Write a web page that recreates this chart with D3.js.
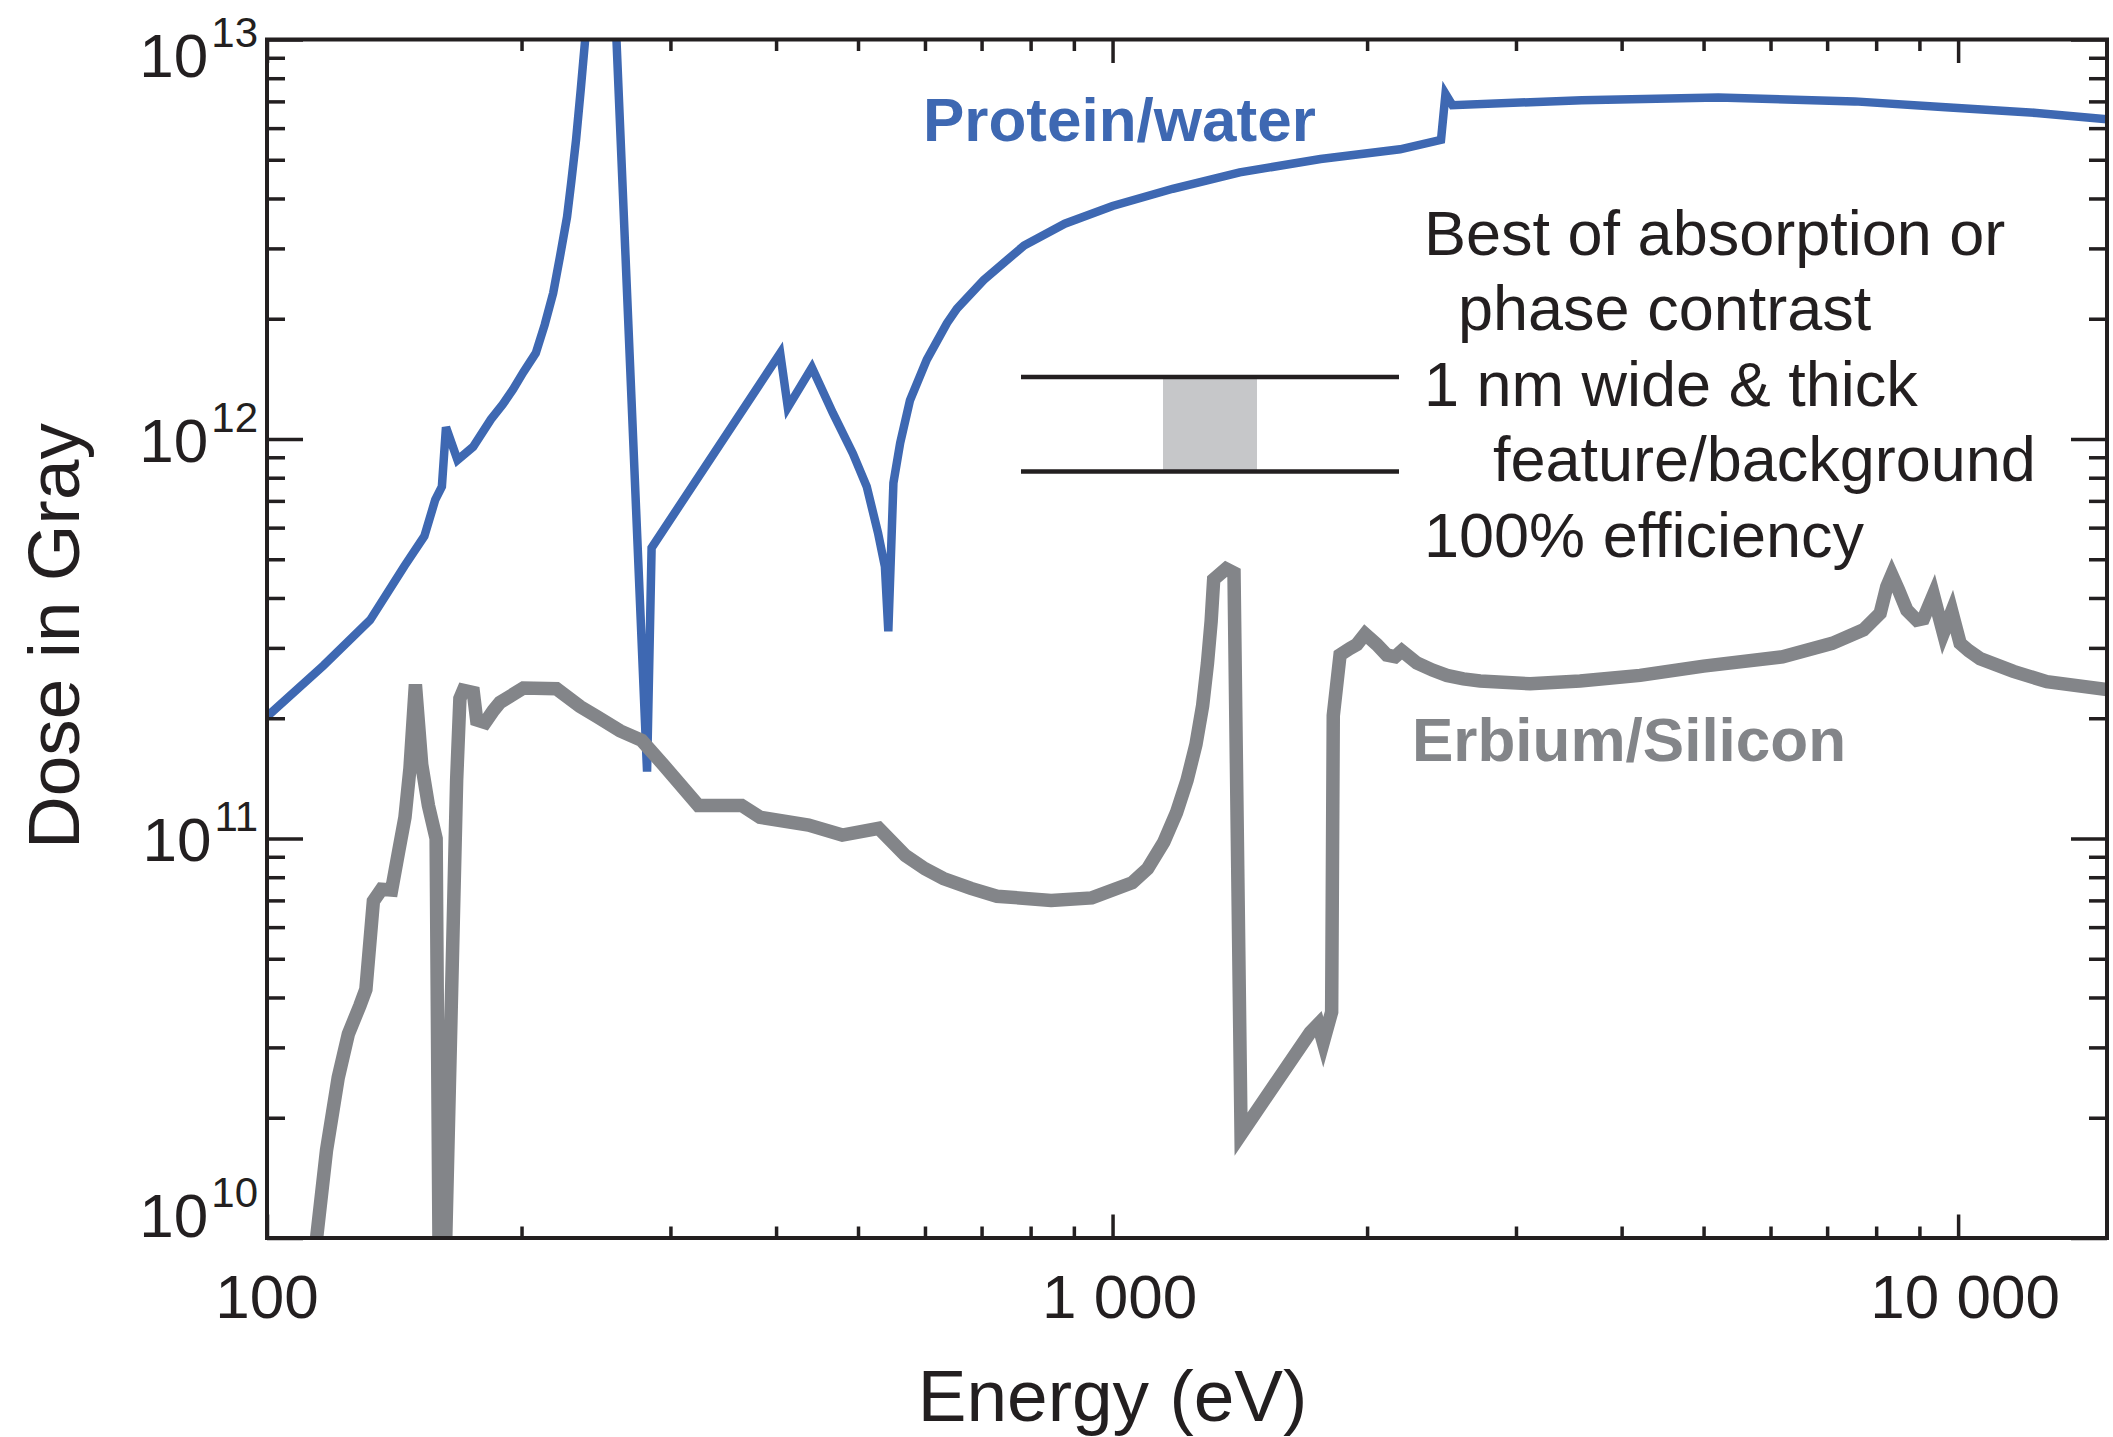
<!DOCTYPE html>
<html>
<head>
<meta charset="utf-8">
<script src="https://cdn.jsdelivr.net/npm/d3@7"></script>
<style>
  html, body { margin: 0; padding: 0; background: #ffffff; }
  svg { display: block; }
  text { font-family: "Liberation Sans", Arial, Helvetica, sans-serif; }
</style>
</head>
<body>
<svg id="chart" width="2113" height="1437"></svg>
<script>
// ---------------- data ----------------
const proteinEnergy = [100, 116.6, 132.4, 145.4, 153.5, 158.1, 161, 162.8, 168, 175.3, 184, 190, 195.4, 201, 207.9, 213, 218, 222, 226.4, 229, 232, 235, 252,
  281.5, 285, 404.5, 413, 441, 467, 493, 512, 528, 538, 543, 550.6, 560.8, 576, 603, 637, 654.6, 704, 786, 878, 1000, 1178, 1414, 1762,
  2188, 2446, 2476, 2523, 3589, 5205, 7545, 9665, 12384, 15000];
const proteinDose = [2.02e11, 2.71e11, 3.52e11, 4.81e11, 5.71e11, 7.04e11, 7.6e11, 1.07e12, 8.86e11, 9.56e11, 1.12e12, 1.22e12, 1.33e12, 1.47e12, 1.64e12, 1.93e12, 2.32e12, 2.85e12, 3.6e12, 4.4e12, 5.6e12, 7.5e12, 4e13,
  1.47e11, 5.34e11, 1.64e12, 1.2e12, 1.51e12, 1.16e12, 9.2e11, 7.6e11, 5.82e11, 4.79e11, 3.3e11, 7.76e11, 9.77e11, 1.25e12, 1.58e12, 1.95e12, 2.12e12, 2.5e12, 3.05e12, 3.46e12, 3.83e12, 4.23e12, 4.65e12, 5.02e12,
  5.31e12, 5.61e12, 7.31e12, 6.85e12, 7.05e12, 7.16e12, 7.0e12, 6.77e12, 6.55e12, 6.31e12];

const erbiumEnergy = [112.3, 117.6, 121.4, 124.8, 128.8, 130.9, 133.6, 136.6, 140.4, 143, 145.6, 147.6, 149.8, 152.4, 155.2, 158.5,
  160.4, 167.6, 169.1, 170.7, 175.4, 177, 181.1, 185.2, 188.6, 201, 220, 234.5, 245.5, 261.5, 277.4, 294.2, 323.6, 364.2, 382.9,
  437, 479, 529, 569, 600, 631, 680, 730, 846, 945, 1055, 1100, 1150, 1190, 1225, 1255, 1278, 1295, 1308, 1317, 1362, 1392, 1419,
  1713, 1751, 1775, 1816, 1824, 1858, 1909, 1945, 1989, 2053, 2110, 2159, 2198, 2290, 2390, 2485, 2600, 2721, 3118, 3572, 4206,
  5000, 6200, 7097, 7730, 8087, 8235, 8348, 8502, 8697, 8936, 9100, 9350, 9607, 9829, 10055, 10300, 10617, 11626, 12733, 15000];
const erbiumDose = [7e9, 1.66e10, 2.52e10, 3.24e10, 3.82e10, 4.19e10, 6.97e10, 7.46e10, 7.43e10, 9.2e10, 1.13e11, 1.5e11, 2.43e11, 1.53e11, 1.21e11, 1.0e11,
  2.8e9, 1.4e11, 2.24e11, 2.35e11, 2.32e11, 1.98e11, 1.95e11, 2.09e11, 2.19e11, 2.38e11, 2.37e11, 2.14e11, 2.02e11, 1.86e11, 1.76e11, 1.53e11, 1.21e11, 1.21e11, 1.13e11,
  1.08e11, 1.02e11, 1.06e11, 9.06e10, 8.4e10, 7.94e10, 7.5e10, 7.17e10, 7.0e10, 7.1e10, 7.75e10, 8.4e10, 9.8e10, 1.16e11, 1.4e11, 1.72e11, 2.15e11, 2.75e11, 3.5e11, 4.45e11, 4.73e11, 4.62e11, 1.82e10,
  3.27e10, 3.43e10, 3.09e10, 3.68e10, 2.03e11, 2.88e11, 2.99e11, 3.06e11, 3.25e11, 3.06e11, 2.88e11, 2.85e11, 2.95e11, 2.75e11, 2.64e11, 2.56e11, 2.51e11, 2.48e11, 2.44e11, 2.48e11, 2.56e11,
  2.7e11, 2.85e11, 3.08e11, 3.33e11, 3.66e11, 4.27e11, 4.57e11, 4.19e11, 3.73e11, 3.52e11, 3.55e11, 4.07e11, 3.27e11, 3.7e11, 3.08e11, 2.95e11, 2.82e11, 2.62e11, 2.47e11, 2.36e11];

const xDomain = [100, 15000];
const yDomain = [1e10, 1e13];
const xMajorTicks = [100, 1000, 10000];
const xTickLabels = ["100", "1 000", "10 000"];
const yMajorExponents = [10, 11, 12, 13];
const seriesNames = ["Protein/water", "Erbium/Silicon"];
const annotationLines = ["Best of absorption or", "phase contrast", "1 nm wide & thick", "feature/background", "100% efficiency"];
const xTitle = "Energy (eV)";
const yTitle = "Dose in Gray";

// ---------------- layout & style ----------------
const W = 2113, H = 1437;
const M = { left: 267, right: 2107, top: 39.5, bottom: 1238 };
const blue = "#3e68b2", gray = "#838589", ink = "#231f20";
const annotationIndent = [0, 34, 0, 69, 0];

const svg = d3.select("#chart");
const x = d3.scaleLog().domain(xDomain).range([M.left, M.right]);
const y = d3.scaleLog().domain(yDomain).range([M.bottom, M.top]);

// minor tick values
const xMinor = [];
for (let k = 2; k <= 4; k++) for (let m = 2; m <= 9; m++) { const v = m * Math.pow(10, k); if (v <= xDomain[1]) xMinor.push(v); }
const yMinor = [];
for (let k = 10; k <= 12; k++) for (let m = 2; m <= 9; m++) yMinor.push(m * Math.pow(10, k));
const yMajor = yMajorExponents.map(e => Math.pow(10, e));

svg.append("defs").append("clipPath").attr("id", "plotclip")
  .append("rect").attr("x", M.left).attr("y", M.top)
  .attr("width", M.right - M.left).attr("height", M.bottom - M.top);

// ---------------- curves ----------------
const line = d3.line().x(d => x(d[0])).y(d => y(d[1]));
const proteinData = proteinEnergy.map((e, i) => [e, proteinDose[i]]);
const erbiumData = erbiumEnergy.map((e, i) => [e, erbiumDose[i]]);
const curves = svg.append("g").attr("clip-path", "url(#plotclip)");
curves.append("path").datum(proteinData).attr("d", line)
  .attr("fill", "none").attr("stroke", blue).attr("stroke-width", 8.5).attr("stroke-linejoin", "miter");
curves.append("path").datum(erbiumData).attr("d", line)
  .attr("fill", "none").attr("stroke", gray).attr("stroke-width", 13.5).attr("stroke-linejoin", "miter");

// ---------------- axes (inward ticks) ----------------
function styleAxis(g) {
  g.select(".domain").remove();
  g.selectAll(".tick line").attr("stroke", ink).attr("stroke-width", 3.5);
  g.selectAll(".tick text").remove();
}
const tickMinorY = 18, tickMajorY = 36, tickMinorX = 11.5, tickMajorX = 23.5;
svg.append("g").attr("transform", `translate(${M.left},0)`).call(d3.axisRight(y).tickValues(yMinor).tickSize(tickMinorY)).call(styleAxis);
svg.append("g").attr("transform", `translate(${M.left},0)`).call(d3.axisRight(y).tickValues(yMajor).tickSize(tickMajorY)).call(styleAxis);
svg.append("g").attr("transform", `translate(${M.right},0)`).call(d3.axisLeft(y).tickValues(yMinor).tickSize(tickMinorY)).call(styleAxis);
svg.append("g").attr("transform", `translate(${M.right},0)`).call(d3.axisLeft(y).tickValues(yMajor).tickSize(tickMajorY)).call(styleAxis);
svg.append("g").attr("transform", `translate(0,${M.bottom})`).call(d3.axisTop(x).tickValues(xMinor).tickSize(tickMinorX)).call(styleAxis);
svg.append("g").attr("transform", `translate(0,${M.bottom})`).call(d3.axisTop(x).tickValues(xMajorTicks).tickSize(tickMajorX)).call(styleAxis);
svg.append("g").attr("transform", `translate(0,${M.top})`).call(d3.axisBottom(x).tickValues(xMinor).tickSize(tickMinorX)).call(styleAxis);
svg.append("g").attr("transform", `translate(0,${M.top})`).call(d3.axisBottom(x).tickValues(xMajorTicks).tickSize(tickMajorX)).call(styleAxis);

// frame
svg.append("rect").attr("x", M.left).attr("y", M.top)
  .attr("width", M.right - M.left).attr("height", M.bottom - M.top)
  .attr("fill", "none").attr("stroke", ink).attr("stroke-width", 4);

// x tick labels
svg.append("g").selectAll("text").data(xMajorTicks).join("text")
  .attr("x", (d, i) => x(d) + (xTickLabels[i].indexOf(" ") >= 0 ? 7 : 0))
  .attr("y", 1318)
  .attr("text-anchor", "middle").attr("font-size", 62).attr("fill", ink)
  .text((d, i) => xTickLabels[i]);

// y tick labels 10^n
const yl = svg.append("g").selectAll("text").data(yMajorExponents).join("text")
  .attr("x", M.left - 9)
  .attr("y", e => Math.min(Math.max(y(Math.pow(10, e)) + 22.5, M.top + 37), M.bottom - 1))
  .attr("text-anchor", "end").attr("fill", ink);
yl.append("tspan").attr("font-size", 62).text("10");
yl.append("tspan").attr("font-size", 42).attr("dy", -30).attr("dx", 3).text(e => String(e));

// axis titles
svg.append("text").attr("x", x(1000)).attr("y", 1421)
  .attr("text-anchor", "middle").attr("font-size", 73).attr("fill", ink).text(xTitle);
svg.append("text").attr("transform", "translate(79,636) rotate(-90)")
  .attr("text-anchor", "middle").attr("font-size", 73).attr("fill", ink).text(yTitle);

// series labels
svg.append("text").attr("x", 923).attr("y", 141).attr("font-size", 62).attr("font-weight", "bold")
  .attr("fill", blue).text(seriesNames[0]);
svg.append("text").attr("x", 1412).attr("y", 761).attr("font-size", 62).attr("font-weight", "bold")
  .attr("fill", gray).text(seriesNames[1]);

// legend sketch: feature between two layers
const lg = svg.append("g");
lg.append("rect").attr("x", 1163).attr("y", 377).attr("width", 94).attr("height", 94.5).attr("fill", "#c6c7c9");
lg.append("line").attr("x1", 1021).attr("x2", 1399).attr("y1", 377).attr("y2", 377).attr("stroke", ink).attr("stroke-width", 4.5);
lg.append("line").attr("x1", 1021).attr("x2", 1399).attr("y1", 471.5).attr("y2", 471.5).attr("stroke", ink).attr("stroke-width", 4.5);

// annotation text
svg.append("g").selectAll("text").data(annotationLines).join("text")
  .attr("x", (d, i) => 1424 + annotationIndent[i])
  .attr("y", (d, i) => 254.5 + 75.6 * i)
  .attr("font-size", 63).attr("fill", ink)
  .text(d => d);
</script>
</body>
</html>
